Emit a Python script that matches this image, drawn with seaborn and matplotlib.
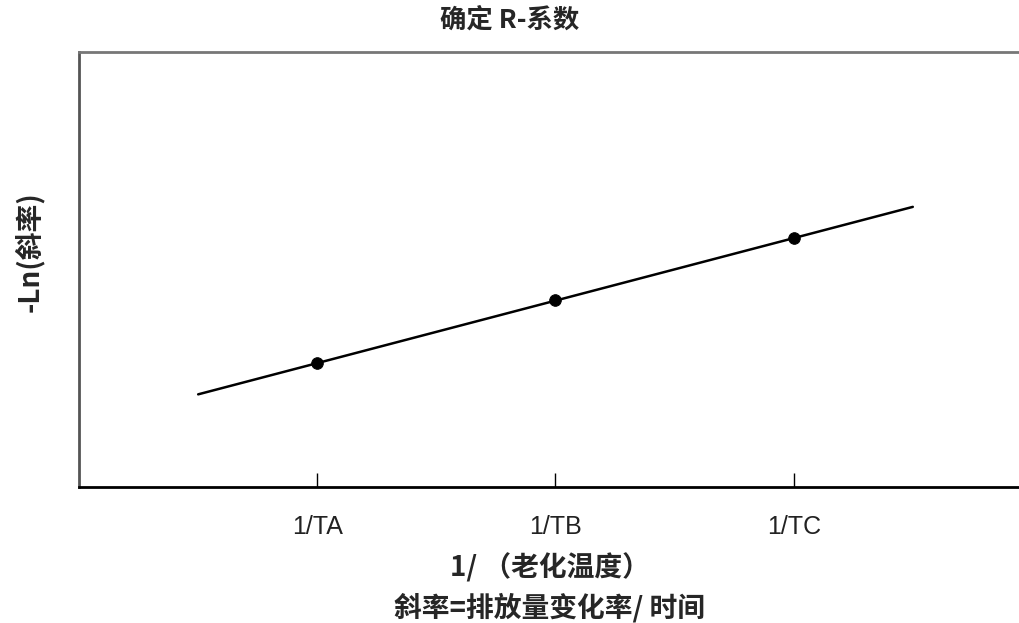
import matplotlib
matplotlib.use("Agg")
import matplotlib.pyplot as plt
import seaborn as sns
import pandas as pd

# aging temperature points (1/T) and measured -Ln(slope)
temp_labels = ["1/TA", "1/TB", "1/TC"]
temp_pos = [1, 2, 3]
neg_ln_slope = [2.85, 4.3, 5.72]

# fitted straight line end points
fit_x = [0.5, 3.5]
fit_y = [2.13, 6.44]

sns.set_theme(style="white")
plt.rcParams['font.family'] = ['Noto Sans CJK SC', 'DejaVu Sans']

df = pd.DataFrame({"x": temp_pos, "y": neg_ln_slope})
fit = pd.DataFrame({"x": fit_x, "y": fit_y})

fig = plt.figure(figsize=(10.2, 6.23), dpi=100)
ax = fig.add_axes([0.0775, 0.2183, 0.9225, 0.6982])

sns.lineplot(data=fit, x="x", y="y", color="black", linewidth=1.8, ax=ax)
sns.scatterplot(data=df, x="x", y="y", color="black", s=70, edgecolor="black",
                zorder=3, ax=ax)

ax.set_xlim(0, 3.95)
ax.set_ylim(0, 10)
ax.set_xticks(temp_pos)
ax.set_xticklabels(temp_labels, fontsize=18, family=['Liberation Sans'], color="#222222")
ax.set_yticks([])
ax.tick_params(axis="x", direction="in", length=10, width=1, color="black",
               pad=20, bottom=True)

ax.spines["right"].set_visible(False)
ax.spines["top"].set_color("#777777")
ax.spines["top"].set_linewidth(2)
ax.spines["left"].set_color("#555555")
ax.spines["left"].set_linewidth(2)
ax.spines["bottom"].set_color("black")
ax.spines["bottom"].set_linewidth(2)

ax.set_xlabel("1/ （老化温度）\n斜率=排放量变化率/ 时间", fontsize=20,
              fontweight="bold", linespacing=1.45, labelpad=10)
ax.set_ylabel("-Ln(斜率)", fontsize=20, fontweight="bold")
ax.yaxis.set_label_coords(-0.037, 0.54)

fig.suptitle("确定 R-系数", x=0.5, y=0.99, fontsize=19, fontweight="bold")

fig.savefig("out.png", dpi=100)
